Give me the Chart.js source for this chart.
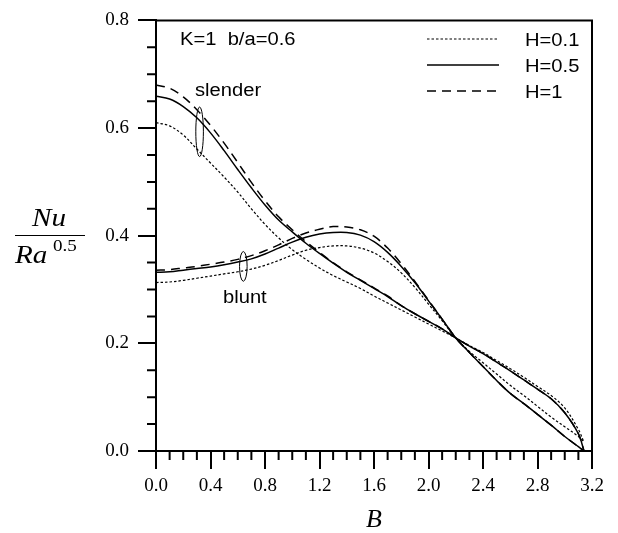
<!DOCTYPE html>
<html>
<head>
<meta charset="utf-8">
<script src="https://cdn.jsdelivr.net/npm/chart.js@4.4.1/dist/chart.umd.min.js"></script>
<style>
  html, body { margin:0; padding:0; background:#fff; }
</style>
</head>
<body>
<canvas id="nuChart" width="618" height="533"></canvas>
<script>
// B values (last point is pi)
const B = [0, 0.1, 0.2, 0.3, 0.4, 0.5, 0.6, 0.7, 0.8, 0.9, 1.0, 1.1, 1.2, 1.3, 1.4, 1.5, 1.6,
           1.7, 1.8, 1.9, 2.0, 2.1, 2.2, 2.3, 2.4, 2.5, 2.6, 2.7, 2.8, 2.9, 3.0, 3.1, 3.1416];

// slender branch
const slenderH01 = [0.610, 0.604, 0.587, 0.561, 0.535, 0.509, 0.481, 0.450, 0.421, 0.396, 0.374,
                    0.356, 0.340, 0.326, 0.314, 0.302, 0.288, 0.275, 0.262, 0.249, 0.236, 0.223,
                    0.210, 0.196, 0.183, 0.168, 0.153, 0.137, 0.120, 0.103, 0.080, 0.040, 0.016];
const slenderH05 = [0.659, 0.654, 0.640, 0.619, 0.591, 0.558, 0.523, 0.489, 0.457, 0.429, 0.407,
                    0.386, 0.367, 0.349, 0.332, 0.317, 0.302, 0.287, 0.270, 0.255, 0.241, 0.227,
                    0.210, 0.195, 0.181, 0.165, 0.149, 0.132, 0.115, 0.097, 0.071, 0.032, 0.000];
const slenderH1  = [0.680, 0.674, 0.658, 0.634, 0.605, 0.572, 0.536, 0.499, 0.465, 0.435, 0.411,
                    0.389, 0.369, 0.350, 0.333, 0.318, 0.303, 0.288, 0.270, 0.255, 0.241, 0.227,
                    0.210, 0.195, 0.181, 0.165, 0.149, 0.132, 0.115, 0.097, 0.071, 0.032, 0.000];

// blunt branch
const bluntH01 = [0.313, 0.314, 0.317, 0.321, 0.325, 0.329, 0.333, 0.338, 0.345, 0.354, 0.364,
                  0.373, 0.378, 0.381, 0.381, 0.377, 0.368, 0.352, 0.331, 0.304, 0.273, 0.242,
                  0.210, 0.185, 0.164, 0.143, 0.122, 0.103, 0.083, 0.063, 0.045, 0.027, 0.017];
const bluntH05 = [0.332, 0.333, 0.336, 0.339, 0.342, 0.346, 0.351, 0.357, 0.366, 0.377, 0.388,
                  0.397, 0.403, 0.406, 0.406, 0.401, 0.389, 0.369, 0.343, 0.313, 0.279, 0.245,
                  0.210, 0.183, 0.157, 0.131, 0.107, 0.088, 0.068, 0.048, 0.027, 0.008, 0.000];
const bluntH1  = [0.336, 0.337, 0.340, 0.343, 0.347, 0.351, 0.356, 0.363, 0.372, 0.383, 0.395,
                  0.405, 0.412, 0.417, 0.416, 0.411, 0.399, 0.377, 0.348, 0.315, 0.280, 0.245,
                  0.210, 0.183, 0.157, 0.131, 0.107, 0.088, 0.068, 0.048, 0.027, 0.008, 0.000];

const legendLabels = ['H=0.1', 'H=0.5', 'H=1'];
const xTickStep = 0.4, yTickStep = 0.2;
// ellipses marking the two branches: [B, value, value half-height]
const marks = [[0.32, 0.593, 0.046], [0.641, 0.343, 0.0276]];

const SERIF = '"Liberation Serif", "Times New Roman", serif';
const SANS  = '"Liberation Sans", Arial, sans-serif';
const SX = 1.12; // text in the original is a bit wide

const styles = [
  { borderDash: [2.5, 2], borderWidth: 1.2 },
  { borderDash: [],       borderWidth: 1.5 },
  { borderDash: [9, 6],   borderWidth: 1.5 },
];

function series(vals, st) {
  return {
    data: B.map((b, i) => ({ x: b, y: vals[i] })),
    borderColor: '#000', borderWidth: st.borderWidth, borderDash: st.borderDash,
    pointRadius: 0, tension: 0.35, fill: false,
  };
}

function putText(ctx, txt, x, y, font, align) {
  ctx.save();
  ctx.font = font;
  ctx.translate(x, y);
  ctx.scale(SX, 1);
  ctx.textAlign = align || 'left';
  ctx.textBaseline = 'alphabetic';
  ctx.fillStyle = '#000';
  ctx.fillText(txt, 0, 0);
  ctx.restore();
}

const extras = {
  id: 'extras',
  afterDraw(chart) {
    const ctx = chart.ctx, a = chart.chartArea;
    const xs = chart.scales.x, ys = chart.scales.y;
    ctx.save();
    ctx.strokeStyle = '#000';
    // frame
    ctx.lineWidth = 2;
    ctx.beginPath();
    ctx.moveTo(a.left, a.top); ctx.lineTo(a.right, a.top); ctx.lineTo(a.right, a.bottom);
    ctx.stroke();
    // minor ticks
    ctx.beginPath();
    for (let k = 1; k < 32; k++) {
      if (k % 4 === 0) continue;
      const px = xs.getPixelForValue(k / 10);
      ctx.moveTo(px, a.bottom); ctx.lineTo(px, a.bottom + 9);
    }
    for (let k = 1; k < 16; k++) {
      if (k % 4 === 0) continue;
      const py = ys.getPixelForValue(k * 0.05);
      ctx.moveTo(a.left - 9, py); ctx.lineTo(a.left, py);
    }
    ctx.stroke();

    // branch ellipses
    ctx.lineWidth = 1;
    marks.forEach(m => {
      const cx = xs.getPixelForValue(m[0]), cy = ys.getPixelForValue(m[1]);
      const ry = Math.abs(ys.getPixelForValue(m[1] + m[2]) - cy);
      ctx.beginPath();
      ctx.ellipse(cx, cy, 3.8, ry, 0, 0, Math.PI * 2);
      ctx.stroke();
    });

    // texts inside plot
    const f = '18px ' + SANS;
    putText(ctx, 'K=1  b/a=0.6', 180, 45, f);
    putText(ctx, 'slender', 195, 96, f);
    putText(ctx, 'blunt', 223, 303, f);

    // legend
    const rows = [39, 65, 91];
    chart.data.datasets.slice(0, 3).forEach((ds, i) => {
      ctx.save();
      ctx.lineWidth = ds.borderWidth;
      ctx.setLineDash(ds.borderDash);
      ctx.beginPath();
      ctx.moveTo(427, rows[i]); ctx.lineTo(499, rows[i]);
      ctx.stroke();
      ctx.restore();
      putText(ctx, legendLabels[i], 525, rows[i] + 6.5, f);
    });

    // y title: Nu / Ra^0.5
    putText(ctx, 'Nu', 49, 226, 'italic 26px ' + SERIF, 'center');
    ctx.lineWidth = 1;
    ctx.beginPath();
    ctx.moveTo(15, 235.5); ctx.lineTo(85, 235.5);
    ctx.stroke();
    putText(ctx, 'Ra', 15, 263, 'italic 26px ' + SERIF);
    putText(ctx, '0.5', 53, 251, '17px ' + SERIF);
    ctx.restore();
  }
};

new Chart(document.getElementById('nuChart'), {
  type: 'line',
  data: {
    datasets: [
      series(slenderH01, styles[0]),
      series(slenderH05, styles[1]),
      series(slenderH1,  styles[2]),
      series(bluntH01,   styles[0]),
      series(bluntH05,   styles[1]),
      series(bluntH1,    styles[2]),
    ]
  },
  options: {
    responsive: false,
    animation: false,
    layout: { padding: { left: 0, right: 26, top: 16, bottom: 0 } },
    plugins: { legend: { display: false }, tooltip: { enabled: false } },
    scales: {
      x: {
        type: 'linear', min: 0, max: 3.2,
        border: { display: true, color: '#000', width: 2 },
        grid: { drawOnChartArea: false, tickLength: 18, color: '#000', lineWidth: 2 },
        ticks: {
          stepSize: xTickStep, padding: 6, color: '#000', maxRotation: 0, autoSkip: false,
          font: { family: SERIF, size: 19 },
          callback: v => Number(v).toFixed(1)
        },
        title: {
          display: true, text: 'B', color: '#000', padding: 0,
          font: { family: SERIF, size: 26, style: 'italic', lineHeight: 1 }
        },
        afterFit: s => { s.height = 82; }
      },
      y: {
        type: 'linear', min: 0, max: 0.8,
        border: { display: true, color: '#000', width: 2 },
        grid: { drawOnChartArea: false, tickLength: 18, color: '#000', lineWidth: 2 },
        ticks: {
          stepSize: yTickStep, padding: 9, color: '#000',
          font: { family: SERIF, size: 19 },
          callback: v => Number(v).toFixed(1)
        },
        afterFit: s => { s.width = 156; }
      }
    }
  },
  plugins: [extras]
});
</script>
</body>
</html>
